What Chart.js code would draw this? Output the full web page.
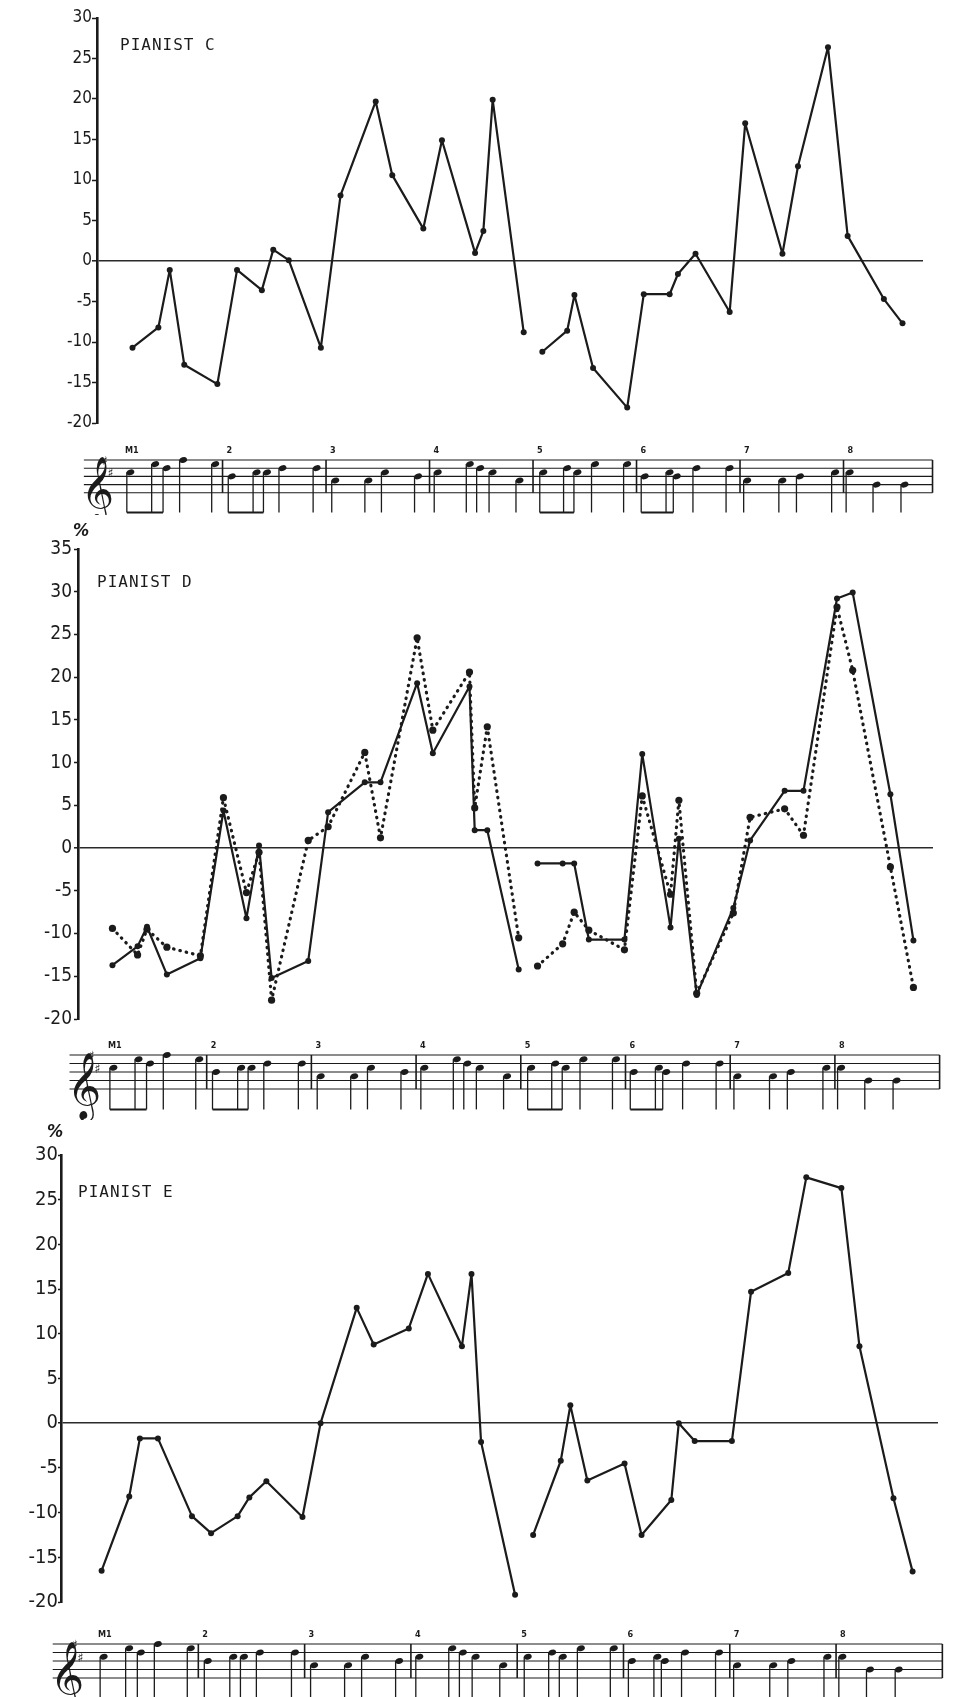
<!DOCTYPE html>
<html>
<head>
<meta charset="utf-8">
<script src="https://cdn.jsdelivr.net/npm/chart.js@4.4.1/dist/chart.umd.min.js"></script>
<style>
  html, body { margin: 0; padding: 0; background: #fff; }
  #page { position: relative; width: 955px; height: 1697px; overflow: hidden; }
  canvas { position: absolute; left: 0; }
</style>
</head>
<body>
<div id="page">
  <canvas id="chartC" width="955" height="515" style="top:0px"></canvas>
  <canvas id="chartD" width="955" height="605" style="top:515px"></canvas>
  <canvas id="chartE" width="955" height="577" style="top:1120px"></canvas>
</div>
<script>
// x = position in the score (measure number + fraction of the measure)
// the null in each series is the break between measure 4 and measure 5
const cX = [1.13, 1.38, 1.49, 1.63, 1.95, 2.14, 2.38, 2.49, 2.64, 2.95, 3.14, 3.48, 3.64, 3.94,
  4.12, 4.44, 4.52, 4.61, 4.91, 5.0, 5.09, 5.33, 5.40, 5.58, 5.91, 6.07, 6.32, 6.40, 6.57, 6.90,
  7.05, 7.41, 7.56, 7.85, 8.04, 8.39, 8.57];
const cY = [-10.7, -8.2, -1.1, -12.8, -15.2, -1.1, -3.6, 1.4, 0.1, -10.7, 8.1, 19.7, 10.6, 4.0,
  14.9, 1.0, 3.7, 19.9, -8.8, null, -11.2, -8.6, -4.2, -13.2, -18.1, -4.1, -4.1, -1.6, 0.9, -6.3,
  17.0, 0.9, 11.7, 26.4, 3.1, -4.7, -7.7];

const dX = [1.10, 1.34, 1.43, 1.62, 1.94, 2.16, 2.38, 2.50, 2.62, 2.97, 3.16, 3.51, 3.66, 4.01,
  4.16, 4.51, 4.56, 4.68, 4.98, 5.05, 5.16, 5.40, 5.51, 5.65, 5.99, 6.16, 6.43, 6.51, 6.68, 7.03,
  7.19, 7.52, 7.70, 8.02, 8.17, 8.53, 8.75];
const dSolid = [-13.7, -11.5, -9.2, -14.8, -12.9, 4.4, -8.2, 0.3, -15.2, -13.2, 4.2, 7.7, 7.7, 19.3,
  11.1, 18.9, 2.1, 2.1, -14.2, null, -1.8, -1.8, -1.8, -10.7, -10.7, 11.0, -9.3, 1.1, -17.2, -7.0,
  0.9, 6.7, 6.7, 29.2, 29.9, 6.3, -10.8];
const dDotted = [-9.4, -12.5, -9.5, -11.6, -12.6, 5.9, -5.2, -0.5, -17.8, 0.9, 2.5, 11.2, 1.2, 24.6,
  13.8, 20.6, 4.7, 14.2, -10.5, null, -13.8, -11.2, -7.5, -9.6, -11.9, 6.1, -5.4, 5.6, -17.0, -7.6,
  3.6, 4.6, 1.5, 28.2, 20.8, -2.2, -16.3];

const eX = [1.09, 1.35, 1.45, 1.62, 1.94, 2.12, 2.37, 2.48, 2.64, 2.98, 3.15, 3.49, 3.65, 3.98,
  4.16, 4.48, 4.57, 4.66, 4.98, 5.05, 5.15, 5.41, 5.50, 5.66, 6.01, 6.17, 6.45, 6.52, 6.67, 7.02,
  7.20, 7.55, 7.72, 8.05, 8.22, 8.54, 8.72];
const eY = [-16.5, -8.2, -1.7, -1.7, -10.4, -12.3, -10.4, -8.3, -6.5, -10.5, 0, 12.9, 8.8, 10.6,
  16.7, 8.6, 16.7, -2.1, -19.2, null, -12.5, -4.2, 2.0, -6.4, -4.5, -12.5, -8.6, 0, -2.0, -2.0,
  14.7, 16.8, 27.5, 26.3, 8.6, -8.4, -16.6];

// the melody under each graph: note positions and staff steps (0 = bottom line)
const noteX = [1.11, 1.35, 1.46, 1.62, 1.93, 2.09, 2.33, 2.43, 2.58, 2.91, 3.09, 3.41, 3.57, 3.89,
  4.08, 4.39, 4.49, 4.61, 4.87, 5.10, 5.33, 5.43, 5.60, 5.91, 6.08, 6.32, 6.39, 6.58, 6.90,
  7.07, 7.41, 7.58, 7.92, 8.06, 8.32, 8.59];
const noteStep = [5, 7, 6, 8, 7, 4, 5, 5, 6, 6, 3, 3, 5, 4, 5, 7, 6, 5, 3, 5, 6, 5, 7, 7,
  4, 5, 4, 6, 6, 3, 3, 4, 5, 5, 2, 2];
const measureLabels = ['M1', '2', '3', '4', '5', '6', '7', '8'];

const INK = '#1b1b1b';

function pts(xs, ys) {
  return xs.map((x, i) => ({ x: x, y: ys[i] }));
}

const scorePlugin = {
  id: 'score',
  afterDraw(chart, args, o) {
    const ctx = chart.ctx;
    const xs = chart.scales.x;
    const px = v => xs.getPixelForValue(v);
    const top = o.top, gap = o.gap;
    const left = px(o.start), right = px(o.end);
    ctx.save();
    ctx.strokeStyle = INK;
    ctx.fillStyle = INK;
    ctx.lineWidth = 1.1;
    for (let i = 0; i < 5; i++) {
      ctx.beginPath();
      ctx.moveTo(left, top + i * gap);
      ctx.lineTo(right, top + i * gap);
      ctx.stroke();
    }
    ctx.lineWidth = 1.6;
    for (let m = 2; m <= 8; m++) {
      ctx.beginPath();
      ctx.moveTo(px(m), top);
      ctx.lineTo(px(m), top + 4 * gap);
      ctx.stroke();
    }
    ctx.beginPath();
    ctx.moveTo(right, top);
    ctx.lineTo(right, top + 4 * gap);
    ctx.stroke();
    // clef and key
    ctx.font = (gap * 6.8) + 'px "DejaVu Sans", "Noto Sans"';
    ctx.textBaseline = 'alphabetic';
    ctx.textAlign = 'left';
    ctx.fillText('\u{1D11E}', left - 3, top + 5.9 * gap);
    ctx.font = 'bold ' + (gap * 1.5) + 'px "DejaVu Sans"';
    ctx.fillText('\u266F', left + gap * 2.2, top + gap * 0.6);
    ctx.fillText('\u266F', left + gap * 2.9, top + gap * 2.1);
    // measure numbers
    ctx.font = 'bold 9px "DejaVu Sans Condensed", "DejaVu Sans"';
    ctx.textAlign = 'left';
    measureLabels.forEach((t, i) => {
      ctx.fillText(t, px(i + 1) + (i === 0 ? 6 : 4), top - 7);
    });
    // notes
    const bottom = top + 4 * gap;
    noteX.forEach((v, i) => {
      const x = px(v);
      const y = bottom - noteStep[i] * gap / 2;
      ctx.beginPath();
      ctx.ellipse(x, y, 4, 2.8, -0.35, 0, Math.PI * 2);
      ctx.fill();
      ctx.lineWidth = 1.3;
      ctx.beginPath();
      ctx.moveTo(x - 3.6, y);
      ctx.lineTo(x - 3.6, bottom + gap * 2.4);
      ctx.stroke();
    });
    // beams under the first three notes of measures 1, 2, 5, 6
    [0, 5, 19, 24].forEach(k => {
      ctx.lineWidth = 2;
      ctx.beginPath();
      ctx.moveTo(px(noteX[k]) - 3.6, bottom + gap * 2.4);
      ctx.lineTo(px(noteX[k + 2]) - 3.6, bottom + gap * 2.4);
      ctx.stroke();
    });
    ctx.restore();
  }
};

const labelPlugin = {
  id: 'panelLabel',
  afterDraw(chart, args, o) {
    const ctx = chart.ctx;
    ctx.save();
    ctx.fillStyle = INK;
    ctx.textBaseline = 'middle';
    ctx.textAlign = 'left';
    ctx.font = '16px "DejaVu Sans Mono", monospace';
    ctx.letterSpacing = '1px';
    ctx.fillText(o.text, chart.chartArea.left + o.dx, o.y);
    if (o.pct) {
      ctx.letterSpacing = '0px';
      ctx.textAlign = 'center';
      ctx.font = 'italic bold 18px "DejaVu Sans Condensed", "DejaVu Sans"';
      ctx.fillText('%', chart.chartArea.left + o.pct.dx, o.pct.y);
    }
    ctx.restore();
  }
};

function solidSet(data) {
  return {
    data: data,
    borderColor: INK,
    borderWidth: 2.2,
    borderJoinStyle: 'round',
    pointRadius: 3,
    pointBackgroundColor: INK,
    pointBorderWidth: 0,
    tension: 0,
    spanGaps: false
  };
}

function dottedSet(data) {
  return {
    data: data,
    borderColor: INK,
    borderWidth: 3.2,
    borderDash: [0.5, 6],
    borderCapStyle: 'round',
    borderJoinStyle: 'round',
    pointRadius: 3.6,
    pointBackgroundColor: INK,
    pointBorderWidth: 0,
    tension: 0,
    spanGaps: false
  };
}

function makePanel(id, cfg) {
  new Chart(document.getElementById(id), {
    type: 'line',
    data: { datasets: cfg.datasets },
    options: {
      responsive: false,
      animation: false,
      layout: { padding: { top: cfg.padTop, bottom: cfg.padBottom, right: cfg.padRight, left: 0 } },
      plugins: {
        legend: { display: false },
        tooltip: { enabled: false },
        score: cfg.score,
        panelLabel: cfg.label
      },
      scales: {
        x: { type: 'linear', display: false, min: cfg.xMin, max: cfg.xMax },
        y: {
          min: -20,
          max: cfg.yMax,
          afterFit: function(scale) { scale.width = cfg.axisX; },
          ticks: {
            stepSize: 5,
            padding: cfg.tickPad,
            color: INK,
            font: { family: '"DejaVu Sans Condensed", "DejaVu Sans"', size: cfg.tickSize }
          },
          grid: {
            drawOnChartArea: true,
            color: c => (c.tick && c.tick.value === 0) ? '#2a2a2a' : 'rgba(0,0,0,0)',
            lineWidth: c => (c.tick && c.tick.value === 0) ? 1.6 : 1,
            tickLength: cfg.tickLen,
            tickColor: INK,
            tickWidth: 1.5
          },
          border: { display: true, color: INK, width: 2.6 }
        }
      }
    },
    plugins: [scorePlugin, labelPlugin]
  });
}

makePanel('chartC', {
  datasets: [solidSet(pts(cX, cY))],
  padTop: 18, padBottom: 92, padRight: 32, axisX: 97,
  xMin: 0.787, xMax: 8.768, yMax: 30,
  tickSize: 17, tickPad: 0, tickLen: 5,
  label: { text: 'PIANIST C', dx: 23, y: 46 },
  score: { top: 460, gap: 8.2, start: 0.66, end: 8.86 }
});

makePanel('chartD', {
  datasets: [dottedSet(pts(dX, dDotted)), solidSet(pts(dX, dSolid))],
  padTop: 34, padBottom: 101, padRight: 22, axisX: 78,
  xMin: 0.771, xMax: 8.937, yMax: 35,
  tickSize: 19, tickPad: 2, tickLen: 4,
  label: { text: 'PIANIST D', dx: 19, y: 68, pct: { dx: 3, y: 16 } },
  score: { top: 540, gap: 8.5, start: 0.69, end: 9.0 }
});

makePanel('chartE', {
  datasets: [solidSet(pts(eX, eY))],
  padTop: 35, padBottom: 95, padRight: 17, axisX: 61,
  xMin: 0.708, xMax: 8.959, yMax: 30,
  tickSize: 20, tickPad: 0, tickLen: 3,
  label: { text: 'PIANIST E', dx: 17, y: 73, pct: { dx: -6, y: 12 } },
  score: { top: 524, gap: 8.5, start: 0.63, end: 9.0 }
});
</script>
</body>
</html>
